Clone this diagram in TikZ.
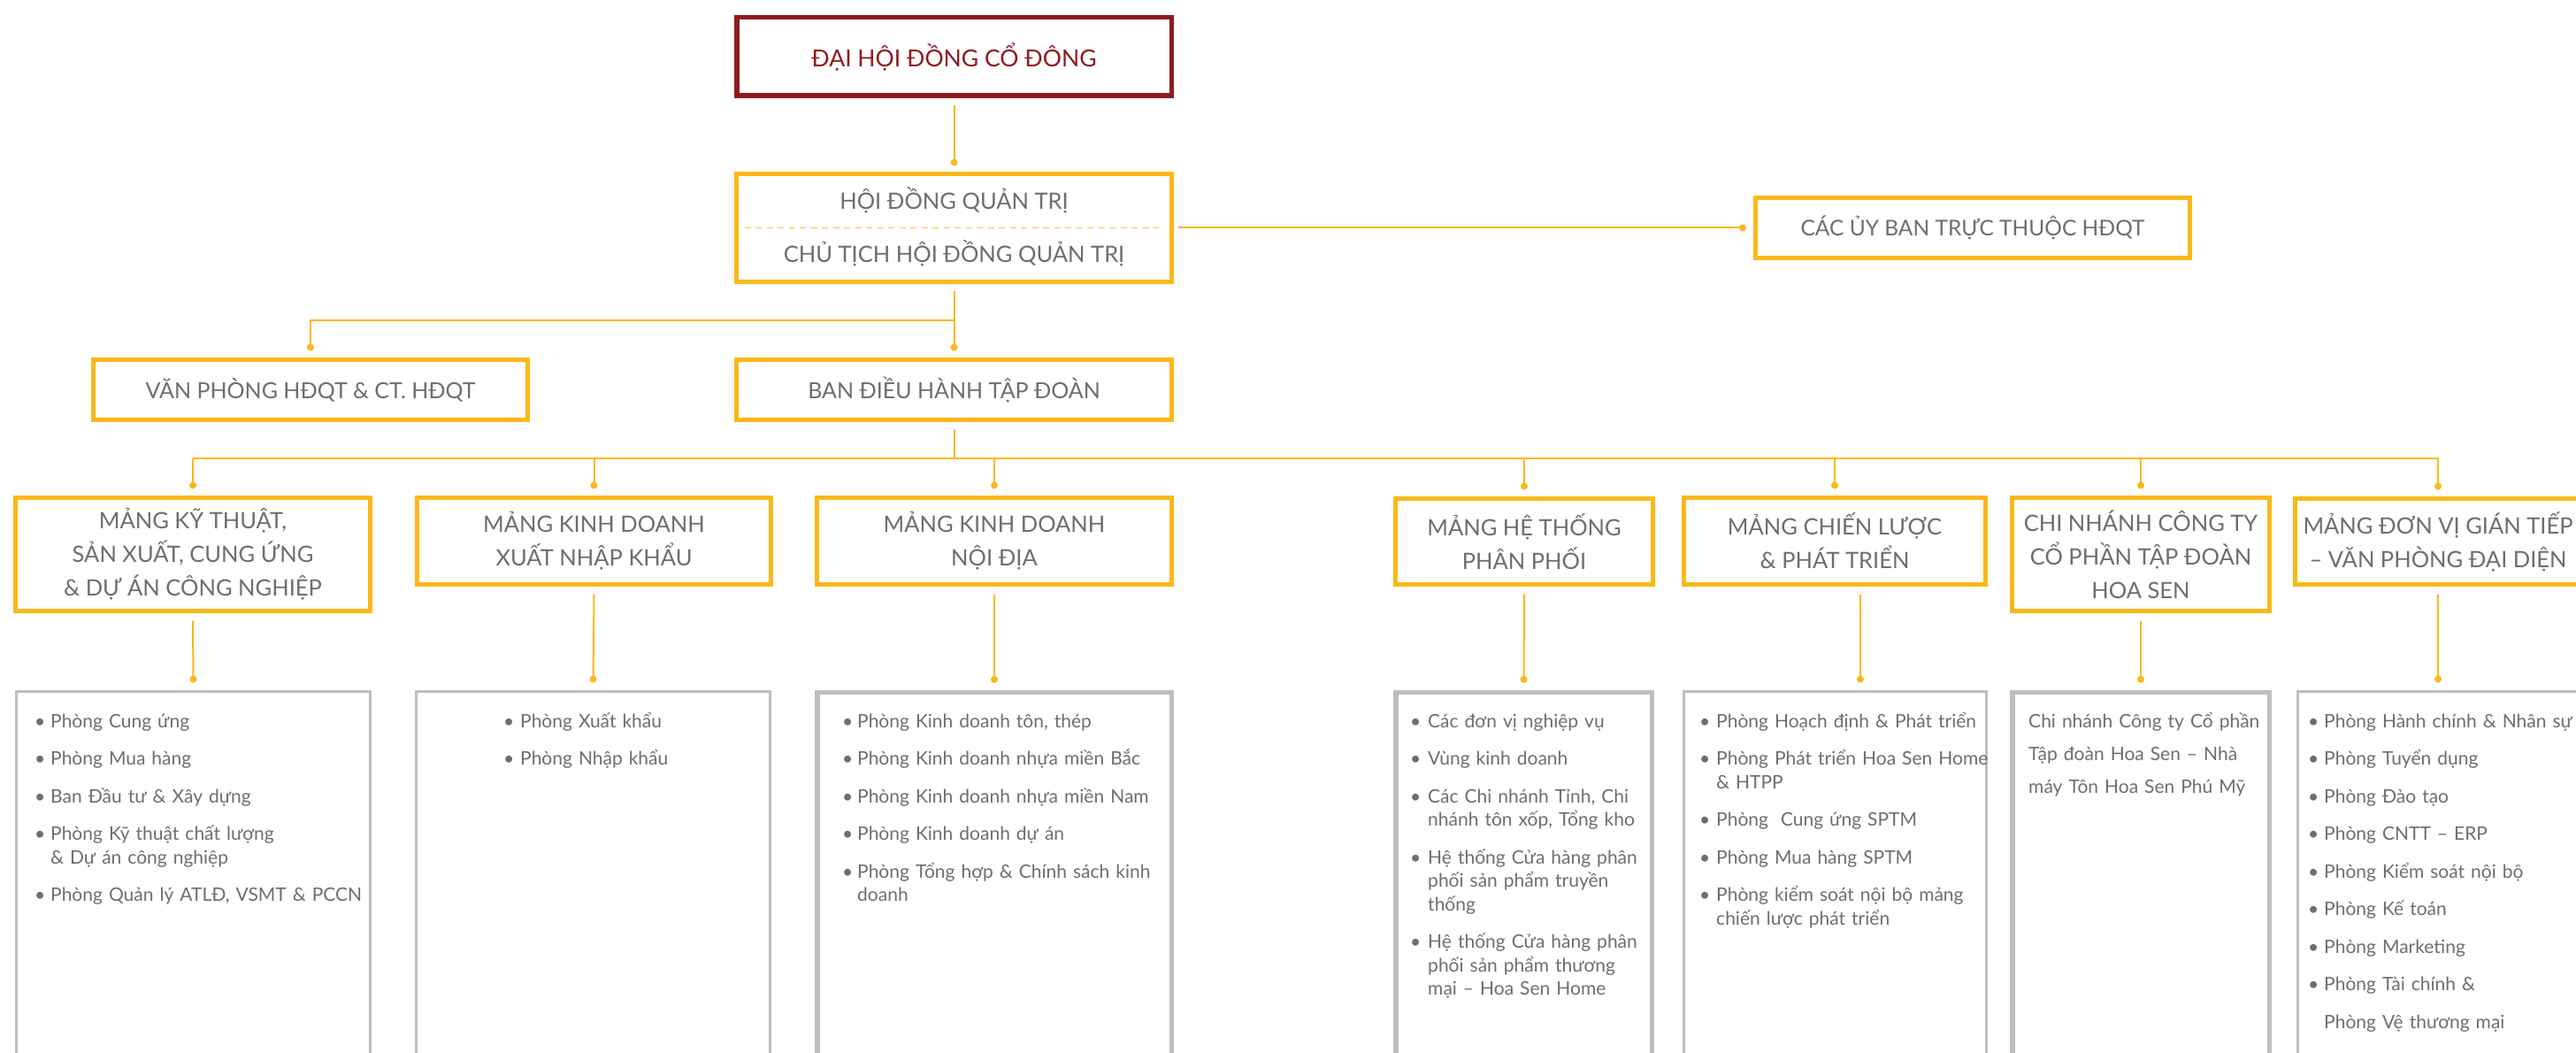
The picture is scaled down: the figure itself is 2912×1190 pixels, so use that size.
\documentclass[tikz,border=0pt]{standalone}
\usepackage{fontspec}
\setmainfont{Lato}
\usetikzlibrary{calc}
\definecolor{hsyellow}{HTML}{FBB81A}
\definecolor{hsred}{HTML}{8E1B1F}
\definecolor{hsgrey}{HTML}{6D6E71}
\definecolor{hsline}{HTML}{BCBEC0}
\newlength{\bulw}
\newlength{\hsjw}
\newcommand{\hsb}{\noindent\makebox[\bulw][l]{\textbullet}}
\newcommand{\hsi}{\noindent\hspace*{\bulw}}
\newcommand{\hsj}[1]{\makebox[\hsjw][s]{#1}}
\newcommand{\hsgap}{\par\vspace{16pt}}
\begin{document}
\begin{tikzpicture}[x=1pt,y=-1pt,
  hbox/.style={draw=hsyellow, line width=5pt, inner sep=0pt, align=center, text=hsgrey, font=\fontsize{25.5}{38}\selectfont},
  redbox/.style={draw=hsred, line width=5.5pt, inner sep=0pt, text=hsred, font=\fontsize{26.5}{34}\selectfont},
  htext/.style={anchor=base, inner sep=0pt, text=hsgrey, font=\fontsize{25.5}{34}\selectfont},
  conn/.style={draw=hsyellow, line width=2pt},
  dotn/.style={circle, fill=hsyellow, inner sep=0pt, minimum size=8pt},
  gbox/.style={draw=hsline, line width=3pt, inner sep=0pt, anchor=north},
  gboxthick/.style={gbox, line width=5.5pt},
  ltext/.style={anchor=base west, inner sep=0pt, text=hsgrey, font=\fontsize{21}{26.5}\selectfont, align=left, text width=420pt}
]
\useasboundingbox (0,0) rectangle (2912,1190);
\fill[white] (0,0) rectangle (2912,1190);
\begin{scope}
\clip (0,0) rectangle (2912,1190);

% ---------- top levels ----------
\node[redbox, minimum width=491.5pt, minimum height=88.5pt] (dhcd) at (1078.5,64) {ĐẠI HỘI ĐỒNG CỔ ĐÔNG};
\node[hbox, minimum width=492pt, minimum height=122pt] (hdqt) at (1078.5,257.5) {};
\node[htext] (hdqt1) at (1078.5,237) {HỘI ĐỒNG QUẢN TRỊ};
\node[htext] (hdqt2) at (1078.5,297) {CHỦ TỊCH HỘI ĐỒNG QUẢN TRỊ};
\draw[hsyellow!85, line width=1.5pt, dash pattern=on 7pt off 5.5pt] ([xshift=11.5pt]hdqt.west) -- ([xshift=-17.5pt]hdqt.east);
\node[hbox, minimum width=491pt, minimum height=68pt, font=\fontsize{24.5}{34}\selectfont] (uyban) at (2230,257.5) {CÁC ỦY BAN TRỰC THUỘC HĐQT};
\node[hbox, minimum width=491pt, minimum height=68pt, font=\fontsize{25}{34}\selectfont] (vanphong) at (351,440.5) {VĂN PHÒNG HĐQT \& CT. HĐQT};
\node[hbox, minimum width=492pt, minimum height=68pt, font=\fontsize{25}{34}\selectfont] (bandh) at (1078.5,440.5) {BAN ĐIỀU HÀNH TẬP ĐOÀN};

% ---------- divisions ----------
\node[hbox, minimum width=401pt, minimum height=128pt] (m1) at (218,626.5) {MẢNG KỸ THUẬT,\\SẢN XUẤT, CUNG ỨNG\\\& DỰ ÁN CÔNG NGHIỆP};
\node[hbox, minimum width=400pt, minimum height=98pt] (m2) at (671.5,611.5) {MẢNG KINH DOANH\\XUẤT NHẬP KHẨU};
\node[hbox, minimum width=401pt, minimum height=98pt] (m3) at (1124,611.5) {MẢNG KINH DOANH\\NỘI ĐỊA};
\node[hbox, minimum width=291pt, minimum height=97pt] (m4) at (1723,612) {MẢNG HỆ THỐNG\\PHÂN PHỐI};
\node[hbox, minimum width=341pt, minimum height=98pt] (m5) at (2074,611.5) {MẢNG CHIẾN LƯỢC\\\& PHÁT TRIỂN};
\node[hbox, minimum width=291pt, minimum height=128pt] (m6) at (2420,626.5) {CHI NHÁNH CÔNG TY\\CỔ PHẦN TẬP ĐOÀN\\HOA SEN};
\node[hbox, minimum width=323pt, minimum height=97pt] (m7) at (2756,612) {MẢNG ĐƠN VỊ GIÁN TIẾP\\– VĂN PHÒNG ĐẠI DIỆN};

% ---------- grey boxes ----------
\node[gbox, minimum width=400pt, minimum height=500pt] (g1) at (218.5,779.5) {};
\node[gbox, minimum width=400pt, minimum height=500pt] (g2) at (670.5,779.5) {};
\node[gboxthick, minimum width=400.5pt, minimum height=500pt] (g3) at (1124,779.75) {};
\node[gboxthick, minimum width=289.5pt, minimum height=500pt] (g4) at (1722.5,779.75) {};
\node[gbox, minimum width=342pt, minimum height=500pt] (g5) at (2074.5,779.5) {};
\node[gboxthick, minimum width=290.5pt, minimum height=500pt] (g6) at (2420,779.75) {};
\node[gbox, minimum width=317pt, minimum height=500pt] (g7) at (2756,779.5) {};

% ---------- connectors ----------
\draw[conn] ([yshift=-8.5pt]dhcd.south) -- ([yshift=10.5pt]hdqt.north) node[dotn] (d0) {};
\draw[conn] ([xshift=5pt]hdqt.east) -- ([xshift=-12pt]uyban.west) node[dotn] (du) {};
\coordinate (b1) at (1078.5,362);
\coordinate (b2) at (1078.5,518);
\draw[conn] ([yshift=-8pt]hdqt.south) -- ([yshift=11.5pt]bandh.north) node[dotn] (dbd) {};
\draw[conn] (b1) -| ([yshift=11.5pt]vanphong.north) node[dotn] (dvp) {};
\draw[conn] ([yshift=-8pt]bandh.south) -- (b2);
\draw[conn] (m1.north |- b2) -- (m7.north |- b2);
\foreach \m in {m1,m2,m3,m4,m5,m6,m7}{
  \draw[conn] (\m.north |- b2) -- ([yshift=11.5pt]\m.north) node[dotn] (d\m) {};
}
\draw[conn] ([yshift=-8.5pt]m1.south) -- ([yshift=12pt]g1.north) node[dotn] (e1) {};
\draw[conn] ([yshift=-8.5pt]m2.south) -- ([yshift=12pt]g2.north) node[dotn] (e2) {};
\draw[conn] ([yshift=-8.5pt]m3.south) -- ([yshift=12pt]g3.north) node[dotn] (e3) {};
\draw[conn] ([yshift=-8.5pt]m4.south) -- ([yshift=12pt]g4.north) node[dotn] (e4) {};
\draw[conn] ([xshift=29pt,yshift=-8.5pt]m5.south) -- ([xshift=28.5pt,yshift=12pt]g5.north) node[dotn] (e5) {};
\draw[conn] ([yshift=-8.5pt]m6.south) -- ([yshift=12pt]g6.north) node[dotn] (e6) {};
\draw[conn] ([yshift=-8.5pt]m7.south) -- ([yshift=12pt]g7.north) node[dotn] (e7) {};

% ---------- lists ----------
\node[ltext] (t1) at (39,822) {\setlength{\bulw}{18pt}%
\hsb Phòng Cung ứng\hsgap
\hsb Phòng Mua hàng\hsgap
\hsb Ban Đầu tư \& Xây dựng\hsgap
\hsb Phòng Kỹ thuật chất lượng\par
\hsi \& Dự án công nghiệp\hsgap
\hsb Phòng Quản lý ATLĐ, VSMT \& PCCN\par};

\node[ltext] (t2) at (569,822) {\setlength{\bulw}{19pt}%
\hsb Phòng Xuất khẩu\hsgap
\hsb Phòng Nhập khẩu\par};

\node[ltext] (t3) at (952,822) {\setlength{\bulw}{17pt}%
\hsb Phòng Kinh doanh tôn, thép\hsgap
\hsb Phòng Kinh doanh nhựa miền Bắc\hsgap
\hsb Phòng Kinh doanh nhựa miền Nam\hsgap
\hsb Phòng Kinh doanh dự án\hsgap
\hsb Phòng Tổng hợp \& Chính sách kinh\par
\hsi doanh\par};

\node[ltext] (t4) at (1594,822) {\setlength{\bulw}{20pt}\setlength{\hsjw}{239pt}%
\hsb Các đơn vị nghiệp vụ\hsgap
\hsb Vùng kinh doanh\hsgap
\hsb\hsj{Các Chi nhánh Tỉnh, Chi}\par
\hsi nhánh tôn xốp, Tổng kho\hsgap
\hsb\hsj{Hệ thống Cửa hàng phân}\par
\hsi\hsj{phối sản phẩm truyền}\par
\hsi thống\hsgap
\hsb\hsj{Hệ thống Cửa hàng phân}\par
\hsi\hsj{phối sản phẩm thương}\par
\hsi mại – Hoa Sen Home\par};

\node[ltext] (t5) at (1921,822) {\setlength{\bulw}{19pt}\setlength{\hsjw}{289pt}%
\hsb Phòng Hoạch định \& Phát triển\hsgap
\hsb Phòng Phát triển Hoa Sen Home\par
\hsi \& HTPP\hsgap
\hsb Phòng\ \ Cung ứng SPTM\hsgap
\hsb Phòng Mua hàng SPTM\hsgap
\hsb\hsj{Phòng kiểm soát nội bộ mảng}\par
\hsi chiến lược phát triển\par};

\node[ltext, font=\fontsize{21}{37}\selectfont] (t6) at (2293,822) {%
\noindent\makebox[253pt][s]{Chi nhánh Công ty Cổ phần}\par
\noindent\makebox[253pt][s]{Tập đoàn Hoa Sen – Nhà}\par
\noindent máy Tôn Hoa Sen Phú Mỹ\par};

\node[ltext] (t7) at (2609,822) {\setlength{\bulw}{18pt}%
\hsb Phòng Hành chính \& Nhân sự\hsgap
\hsb Phòng Tuyển dụng\hsgap
\hsb Phòng Đào tạo\hsgap
\hsb Phòng CNTT – ERP\hsgap
\hsb Phòng Kiểm soát nội bộ\hsgap
\hsb Phòng Kế toán\hsgap
\hsb Phòng Marketing\hsgap
\hsb Phòng Tài chính \&\hsgap
\hsi Phòng Vệ thương mại\par};
\end{scope}
\end{tikzpicture}
\end{document}
